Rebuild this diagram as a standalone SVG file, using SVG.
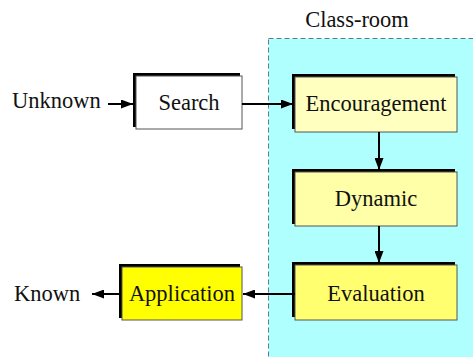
<svg xmlns="http://www.w3.org/2000/svg" width="473" height="357" viewBox="0 0 473 357">
<defs>
<marker id="ah" markerWidth="12" markerHeight="9" refX="12" refY="4.5" orient="auto" markerUnits="userSpaceOnUse">
<path d="M0,0 L12,4.5 L0,9 Z" fill="#000"/>
</marker>
<style>
.sh{fill:#000}
.bx{stroke:#555;stroke-width:1}
.c{stroke:#000;stroke-width:2;fill:none}
</style>
</defs>
<rect x="0" y="0" width="473" height="357" fill="#fff"/>
<g font-family="'Liberation Serif', 'Times New Roman', serif" font-size="22.5" fill="#111">
<g id="classroom">
<rect x="268.5" y="38.5" width="210" height="325" fill="#b0ffff" stroke="#5a7f8a" stroke-width="1" stroke-dasharray="5,3"/>
<text x="357" y="27" text-anchor="middle">Class-room</text>
</g>
<g id="unknown"><text x="12" y="108">Unknown</text></g>
<g id="known"><text x="14" y="301">Known</text></g>
<g id="search">
<rect class="sh" x="133" y="73" width="107" height="54"/>
<rect class="bx" x="136" y="76" width="106" height="53" fill="#fff"/>
<text x="189" y="110" text-anchor="middle">Search</text>
</g>
<g id="encouragement">
<rect class="sh" x="292" y="74" width="163" height="55"/>
<rect class="bx" x="295" y="77" width="162" height="55" fill="#ffffc0"/>
<text x="376" y="111" text-anchor="middle">Encouragement</text>
</g>
<g id="dynamic">
<rect class="sh" x="292" y="169" width="163" height="55"/>
<rect class="bx" x="295" y="172" width="162" height="54" fill="#ffffa8"/>
<text x="376" y="206" text-anchor="middle">Dynamic</text>
</g>
<g id="evaluation">
<rect class="sh" x="292" y="262" width="163" height="55"/>
<rect class="bx" x="295" y="265" width="162" height="55" fill="#ffff70"/>
<text x="376" y="301" text-anchor="middle">Evaluation</text>
</g>
<g id="application">
<rect class="sh" x="119" y="264" width="121" height="54"/>
<rect class="bx" x="122" y="267" width="120" height="53" fill="#ffff00"/>
<text x="182" y="301" text-anchor="middle">Application</text>
</g>
</g>
<g id="connectors">
<path class="c" d="M108,104 L133,104" marker-end="url(#ah)"/>
<path class="c" d="M242,104 L293,104" marker-end="url(#ah)"/>
<path class="c" d="M379,132 L379,170" marker-end="url(#ah)"/>
<path class="c" d="M379,226 L379,263" marker-end="url(#ah)"/>
<path class="c" d="M295,294 L243,294" marker-end="url(#ah)"/>
<path class="c" d="M119,294 L92,294" marker-end="url(#ah)"/>
</g>
</svg>
